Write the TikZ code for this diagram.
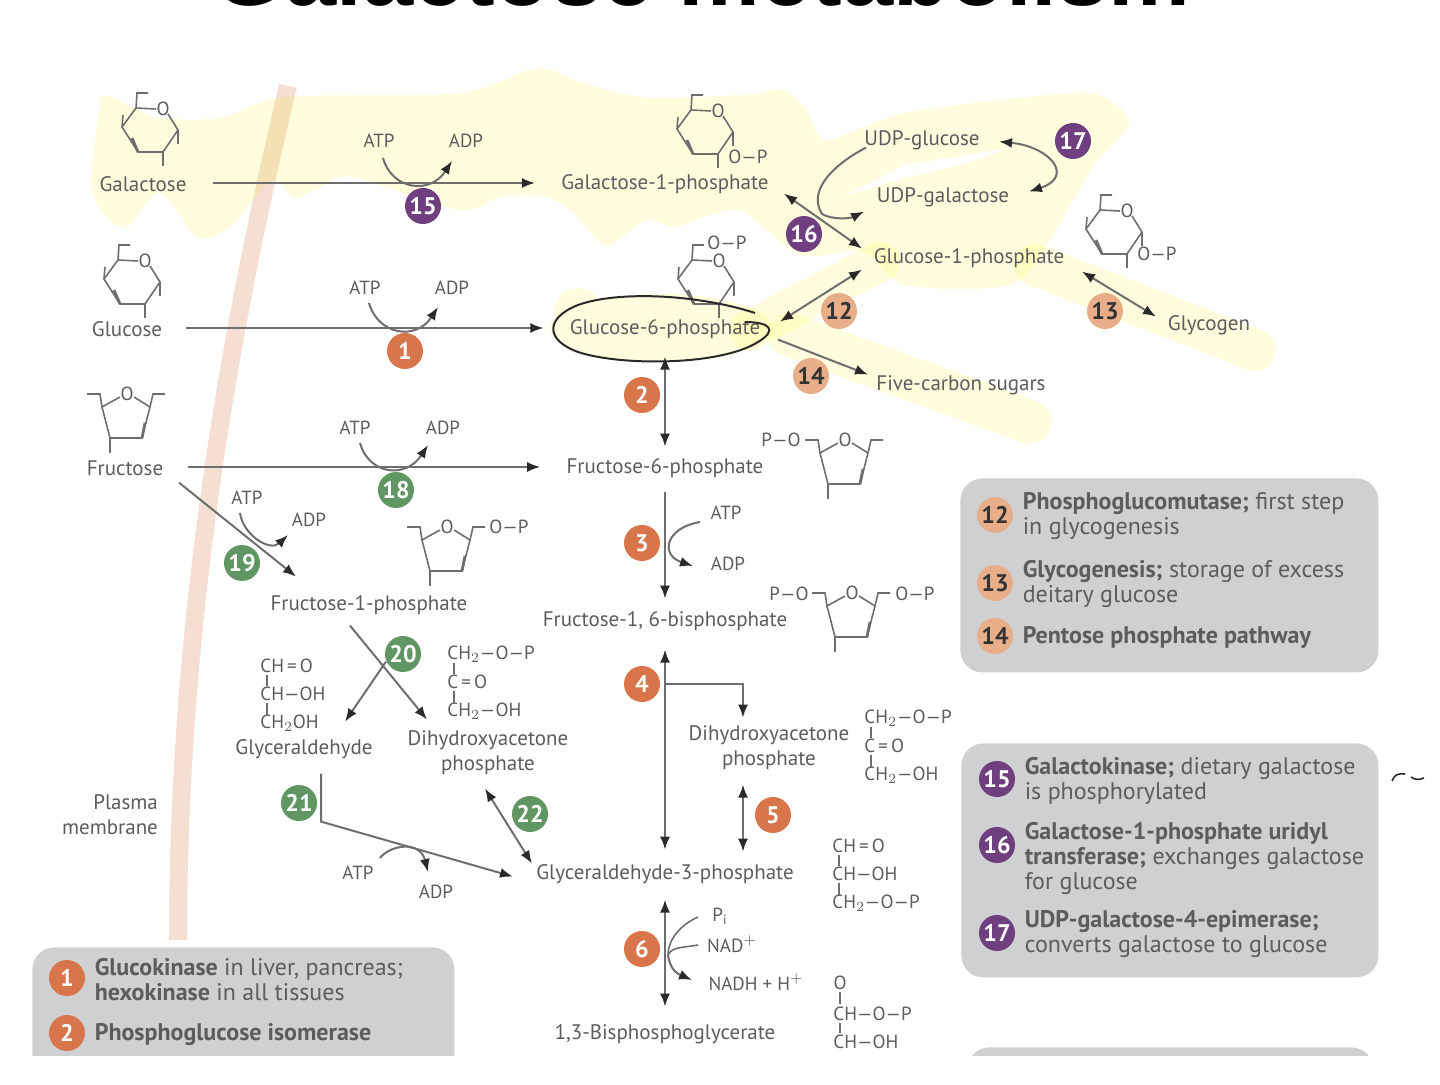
\documentclass[tikz,border=0pt]{standalone}
\usepackage{fontspec}
\setmainfont{PT Sans}
\newfontfamily\titlefont{Liberation Sans}
\usepackage{xcolor}
\usetikzlibrary{arrows.meta,positioning}
\definecolor{galPurple}{HTML}{6F3F80}
\definecolor{galOrange}{HTML}{D9754A}
\definecolor{galGreen}{HTML}{5F9663}
\definecolor{galPeach}{HTML}{E8AE8A}
\definecolor{galPanel}{HTML}{CFD0D2}
\definecolor{galInk}{HTML}{5C5C5C}
\definecolor{galLine}{HTML}{6E6E6E}
\definecolor{galTip}{HTML}{2A2A2A}
\definecolor{galMembrane}{HTML}{F5DFD2}
\tikzset{
  met/.style={font=\fontsize{10.5}{12.5}\selectfont, text=galInk, align=center, inner sep=0pt, yshift=-0.8pt},
  chem/.style={font=\fontsize{9.5}{11}\selectfont, text=galInk, inner sep=0pt},
  bond/.style={draw=galLine, line width=0.8pt},
  thickbond/.style={draw=galLine, line width=1.4pt},
  arrow/.style={draw=galLine, line width=1pt, -{Latex[length=6.5pt,width=5pt,color=galTip]}},
  twoway/.style={draw=galLine, line width=1pt, {Latex[length=6.5pt,width=5pt,color=galTip]}-{Latex[length=6.5pt,width=5pt,color=galTip]}},
  badge/.style={circle, minimum size=18pt, inner sep=0pt, text=white, font=\fontsize{12}{12}\bfseries\selectfont},
  badgeP/.style={badge, fill=galPurple},
  badgeO/.style={badge, fill=galOrange},
  badgeG/.style={badge, fill=galGreen},
  badgeE/.style={badge, fill=galPeach, text=black!80},
  panel/.style={fill=galPanel, rounded corners=11pt, inner sep=0pt},
  legtext/.style={font=\fontsize{12}{12.5}\selectfont, text=galInk, align=left, inner sep=0pt, right=4.5pt of #1, yshift=-0.7pt},
  hilite/.style={fill=yellow, fill opacity=0.13},
  hiband/.style={draw=yellow, draw opacity=0.13, line cap=round},
  pics/pyran/.style={code={
    \node[chem] (-o) at (13,-21) {O};
    \draw[bond] (-2,-37) -- (-13,-37) -- (-14,-22) -- (6,-21);
    \draw[bond] (18,-16) -- (28,0) -- (13,22) -- (-12,22) -- (-28,-3) -- (-14,-22);
    \draw[bond] (13,22) -- (13,36);
    \draw[bond] (-28,-3) -- (-27,-15);
    \draw[thickbond] (-12,22) -- (-18,8);
    \draw[bond] (28,0) -- (28,14);
  }},
  pics/furan/.style={code={
    \node[chem] (-o) at (0,-26) {O};
    \draw[bond] (-40,-26) -- (-27,-26) -- (-25,-13) -- (-7,-23);
    \draw[bond] (7,-23) -- (23,-13) -- (15,18) -- (-17,18) -- (-25,-13);
    \draw[bond] (23,-13) -- (26,-26) -- (38,-26);
    \draw[bond] (-17,18) -- (-17,33);
    \draw[thickbond] (15,18) -- (18,3);
  }},
  pics/chain/.style n args={3}{code={
    \node[chem, anchor=west] (-top) at (0,0) {#1};
    \node[chem, anchor=west] (-mid) at (0,28) {#2};
    \node[chem, anchor=west] (-low) at (0,57) {#3};
    \draw[bond] (7,9) -- (7,20);
    \draw[bond] (7,37) -- (7,49);
  }}
}
\begin{document}
\begin{tikzpicture}[x=0.5pt, y=-0.5pt]
  \useasboundingbox (0,0) rectangle (1440,1085);

  % plasma membrane and highlighter
  \draw[galMembrane, line width=9pt] (288,86) .. controls (220,370) and (178,650) .. (178,940);
  \fill[hilite] plot[smooth cycle, tension=0.5] coordinates {(105,95) (156,117) (220,118) (285,97) (459,93)
    (537,68) (574,80) (643,97) (741,95) (782,90) (807,110) (827,140) (905,113) (1068,93) (1105,98) (1129,123)
    (1093,167) (1048,243) (1010,285) (905,285) (864,252) (800,255) (746,213) (716,213) (675,227) (647,220)
    (606,245) (574,213) (546,197) (500,197) (459,210) (353,177) (321,187) (294,198) (271,180) (230,227)
    (197,237) (160,193) (124,228) (92,193) (99,113)};
  \fill[white] (842,197) -- (905,165) -- (1010,148) -- (960,165) -- (905,178) -- cycle;
  \draw[hiband, line width=20pt] (750,330) -- (880,262);
  \draw[hiband, line width=22pt] (790,335) -- (1030,422);
  \draw[hiband, line width=21pt] (1035,265) -- (1255,350);
  \fill[hilite] (661,328) ellipse [x radius=112, y radius=34] (578,312) circle [radius=24];

  \node[font=\titlefont\fontsize{46}{46}\bfseries\selectfont, anchor=base, inner sep=0pt] (title) at (702,6) {Galactose metabolism};

  % legend panels
  \begin{scope}
    \clip (0,0) rectangle (1440,1055);
    \node[panel, minimum width=211pt, minimum height=70pt, anchor=north west] (panelC) at (32,947) {};
    \node[panel, minimum width=203pt, minimum height=30pt, anchor=north west] (panelD) at (967,1047) {};
  \end{scope}
  \node[panel, minimum width=209pt, minimum height=97pt, anchor=north west] (panelA) at (960,478) {};
  \node[panel, minimum width=208.5pt, minimum height=117pt, anchor=north west] (panelB) at (961,743) {};

  % metabolites
  \node[met] (galactose) at (143,183) {Galactose};
  \node[met] (gal1p) at (665,183) {Galactose-1-phosphate};
  \node[met] (glucose) at (127,328) {Glucose};
  \node[met] (g6p) at (665,328) {Glucose-6-phosphate};
  \node[met] (fructose) at (125,467) {Fructose};
  \node[met] (f6p) at (665,467) {Fructose-6-phosphate};
  \node[met] (f1p) at (369,604) {Fructose-1-phosphate};
  \node[met] (f16) at (665,620) {Fructose-1, 6-bisphosphate};
  \node[met] (glyald) at (304,748) {Glyceraldehyde};
  \node[met] (dhapA) at (488,751) {Dihydroxyacetone\\phosphate};
  \node[met] (dhapB) at (769,746) {Dihydroxyacetone\\phosphate};
  \node[met] (gly3p) at (665,873) {Glyceraldehyde-3-phosphate};
  \node[met] (bpg) at (665,1033) {1,3-Bisphosphoglycerate};
  \node[met] (udpglc) at (922,139) {UDP-glucose};
  \node[met] (udpgal) at (943,196) {UDP-galactose};
  \node[met] (g1p) at (969,257) {Glucose-1-phosphate};
  \node[met] (glycogen) at (1209,324) {Glycogen};
  \node[met] (five) at (961,384) {Five-carbon sugars};
  \node[met, align=right] (plasma) at (110,813) {Plasma\\membrane};

  % ring structures
  \pic (ringGal) at (150,130) {pyran};
  \pic (ringGalP) at (705,132) {pyran};
  \pic (ringGlc) at (132,282) {pyran};
  \pic (ringG6p) at (706,282) {pyran};
  \pic (ringG1p) at (1114,232) {pyran};
  \pic (ringFru) at (127,420) {furan};
  \pic (ringF6p) at (845,466) {furan};
  \pic (ringF16) at (852,619) {furan};
  \pic (ringF1p) at (447,553) {furan};
  \node[chem] (opGal) at (748,157) {O—P};
  \node[chem] (opG6p) at (727,243) {O—P};
  \node[chem] (opG1p) at (1157,254) {O—P};
  \node[chem] (poF6p) at (781,440) {P—O};
  \node[chem] (poF16) at (789,594) {P—O};
  \node[chem] (opF16) at (915,594) {O—P};
  \node[chem] (opF1p) at (509,527) {O—P};

  % open chains
  \pic (chainGly) at (260,666) {chain={CH\,=\,O}{CH—OH}{CH$_2$OH}};
  \pic (chainDhapA) at (447,654) {chain={CH$_2$—O—P}{C\,=\,O}{CH$_2$—OH}};
  \pic (chainDhapB) at (864,718) {chain={CH$_2$—O—P}{C\,=\,O}{CH$_2$—OH}};
  \pic (chainG3p) at (832,846) {chain={CH\,=\,O}{CH—OH}{CH$_2$—O—P}};
  \node[chem] (bpgO) at (840,983) {O};
  \node[chem, anchor=west] (bpgTop) at (833,1014) {CH—O—P};
  \node[chem, anchor=west] (bpgLow) at (833,1042) {CH—OH};
  \draw[thickbond, shorten <=1pt, shorten >=5pt] (bpgO) -- (bpgTop.west -| bpgO);
  \draw[bond, shorten <=4.5pt, shorten >=4.5pt] ([xshift=3.5pt]bpgTop.west) -- ([xshift=3.5pt]bpgLow.west);

  % cofactors
  \node[chem] (atpA) at (379,141) {ATP};
  \node[chem] (adpA) at (466,141) {ADP};
  \node[chem] (atpB) at (365,288) {ATP};
  \node[chem] (adpB) at (452,288) {ADP};
  \node[chem] (atpC) at (355,428) {ATP};
  \node[chem] (adpC) at (443,428) {ADP};
  \node[chem] (atpD) at (247,498) {ATP};
  \node[chem] (adpD) at (309,520) {ADP};
  \node[chem] (atpE) at (358,873) {ATP};
  \node[chem] (adpE) at (436,892) {ADP};
  \node[chem] (atpF) at (726,513) {ATP};
  \node[chem] (adpF) at (728,564) {ADP};
  \node[chem] (pi) at (720,916) {P$_{\mathrm{i}}$};
  \node[chem] (nad) at (732,944) {NAD$^+$};
  \node[chem] (nadh) at (756,982) {NADH + H$^+$};
  \coordinate (nadJoin) at (668,955);
  \coordinate (udpBend) at (822,214);

  % pathway arrows
  \draw[arrow, shorten <=13pt, shorten >=13pt] ([yshift=0.8pt]galactose.east) -- ([yshift=0.8pt]gal1p.west);
  \draw[arrow, shorten <=12pt, shorten >=13pt] ([yshift=0.8pt]glucose.east) -- ([yshift=0.8pt]g6p.west);
  \draw[arrow, shorten <=12pt, shorten >=13pt] ([yshift=0.8pt]fructose.east) -- ([yshift=0.8pt]f6p.west);
  \draw[twoway] ([shift={(0,27)}]g6p.center) -- ([shift={(0,-22)}]f6p.center);
  \draw[arrow] ([shift={(0,23)}]f6p.center) -- ([shift={(0,-23)}]f16.center);
  \draw[twoway] ([shift={(0,28)}]f16.center) -- ([shift={(0,-25)}]gly3p.center);
  \draw[arrow] ([shift={(0,62)}]f16.center) -| ([shift={(-26,-30)}]dhapB.center);
  \draw[twoway] ([shift={(-26,37)}]dhapB.center) -- ([shift={(78,-23)}]gly3p.center);
  \draw[twoway] ([shift={(0,25)}]gly3p.center) -- ([shift={(0,-28)}]bpg.center);
  \draw[arrow] ([shift={(54,14)}]fructose.center) -- ([shift={(-73,-29)}]f1p.center);
  \draw[arrow] ([shift={(-19,20)}]f1p.center) -- ([shift={(-61,-33)}]dhapA.center);
  \draw[arrow] ([shift={(17,56)}]f1p.center) -- ([shift={(41,-28)}]glyald.center);
  \draw[arrow] ([shift={(17,24)}]glyald.center) -- ++(0,48) -- ([shift={(-152,2)}]gly3p.center);
  \draw[twoway] ([shift={(-3,36)}]dhapA.center) -- ([shift={(-133,-11)}]gly3p.center);
  \draw[twoway] ([shift={(115,-8)}]g6p.center) -- ([shift={(-107,11)}]g1p.center);
  \draw[arrow] ([shift={(113,10)}]g6p.center) -- ([shift={(-93,-11)}]five.center);
  \draw[twoway] ([shift={(113,13)}]g1p.center) -- ([shift={(-53,-9)}]glycogen.center);
  \draw[twoway] ([shift={(119,9)}]gal1p.center) -- ([shift={(-107,-10)}]g1p.center);
  \draw[arrow] ([shift={(-56,7)}]udpglc.center) .. controls +(-36,19) and +(-14,-22) .. (udpBend)
    .. controls +(10,6) and +(-14,7) .. ([shift={(-79,14)}]udpgal.center);
  \draw[twoway] ([shift={(77,1)}]udpglc.center) .. controls +(51,5) and +(46,-15) .. ([shift={(86,-6)}]udpgal.center);

  % cofactor curves
  \draw[arrow] ([shift={(4,17)}]atpA.center) .. controls +(9,32) and +(-22,34) .. ([shift={(-14,20)}]adpA.center);
  \draw[arrow] ([shift={(4,15)}]atpB.center) .. controls +(9,32) and +(-22,34) .. ([shift={(-14,19)}]adpB.center);
  \draw[arrow] ([shift={(5,15)}]atpC.center) .. controls +(9,32) and +(-22,34) .. ([shift={(-15,17)}]adpC.center);
  \draw[arrow] ([shift={(-7,15)}]atpD.center) .. controls +(3,22) and +(-18,17) .. ([shift={(-21,15)}]adpD.center);
  \draw[arrow] ([shift={(22,-15)}]atpE.center) .. controls +(10,-13) and +(-8,-32) .. ([shift={(-8,-20)}]adpE.center);
  \draw[arrow] ([shift={(-26,9)}]atpF.center) .. controls +(-35,6) and +(-33,-11) .. ([shift={(-35,2)}]adpF.center);
  \draw[bond] ([shift={(-22,1)}]pi.center) .. controls +(-18,8) and +(0,-15) .. (nadJoin);
  \draw[bond] ([shift={(-34,1)}]nad.center) .. controls +(-18,3) and +(4,-8) .. (nadJoin);
  \draw[arrow] (nadJoin) .. controls +(2,15) and +(-14,-6) .. ([shift={(-64,-2)}]nadh.center);

  % hand drawn ring and mark
  \draw[galTip, line width=1pt] (755,313) .. controls (700,295) and (620,290) .. (578,305)
    .. controls (545,318) and (545,340) .. (578,352) .. controls (620,366) and (720,366) .. (758,342)
    .. controls (778,330) and (770,322) .. (745,322);
  \draw[galTip, line width=0.8pt] (1392,781) .. controls (1394,775) and (1398,773) .. (1405,774);
  \draw[galTip, line width=0.8pt] (1411,777) .. controls (1415,780) and (1419,780) .. (1424,778);

  % step numbers
  \node[badgeP] (n15) at (423,206) {15};
  \node[badgeO] (n1) at (405,351) {1};
  \node[badgeO] (n2) at (642,395) {2};
  \node[badgeG] (n18) at (396,490) {18};
  \node[badgeG] (n19) at (242,563) {19};
  \node[badgeO] (n3) at (642,543) {3};
  \node[badgeO] (n4) at (642,684) {4};
  \node[badgeG] (n20) at (403,654) {20};
  \node[badgeG] (n21) at (299,803) {21};
  \node[badgeG] (n22) at (530,814) {22};
  \node[badgeO] (n5) at (773,815) {5};
  \node[badgeO] (n6) at (642,949) {6};
  \node[badgeP] (n16) at (804,234) {16};
  \node[badgeP] (n17) at (1073,141) {17};
  \node[badgeE] (n12) at (839,311) {12};
  \node[badgeE] (n13) at (1105,311) {13};
  \node[badgeE] (n14) at (811,376) {14};

  % legends
  \node[badgeE] (keyA) at (995,515) {12};
  \node[legtext=keyA] (txtA) {\textbf{Phosphoglucomutase;} first step\\in glycogenesis};
  \node[badgeE] (keyB) at (995,583) {13};
  \node[legtext=keyB] (txtB) {\textbf{Glycogenesis;} storage of excess\\deitary glucose};
  \node[badgeE] (keyC) at (995,636) {14};
  \node[legtext=keyC] (txtC) {\textbf{Pentose phosphate pathway}};
  \node[badgeP] (keyD) at (997,779) {15};
  \node[legtext=keyD] (txtD) {\textbf{Galactokinase;} dietary galactose\\is phosphorylated};
  \node[badgeP] (keyE) at (997,845) {16};
  \node[legtext=keyE, yshift=-6pt] (txtE) {\textbf{Galactose-1-phosphate uridyl}\\\textbf{transferase;} exchanges galactose\\for glucose};
  \node[badgeP] (keyF) at (997,933) {17};
  \node[legtext=keyF] (txtF) {\textbf{UDP-galactose-4-epimerase;}\\converts galactose to glucose};
  \node[badgeO] (keyG) at (67,978) {1};
  \node[legtext=keyG] (txtG) {\textbf{Glucokinase} in liver, pancreas;\\\textbf{hexokinase} in all tissues};
  \node[badgeO] (keyH) at (67,1033) {2};
  \node[legtext=keyH] (txtH) {\textbf{Phosphoglucose isomerase}};
\end{tikzpicture}
\end{document}
